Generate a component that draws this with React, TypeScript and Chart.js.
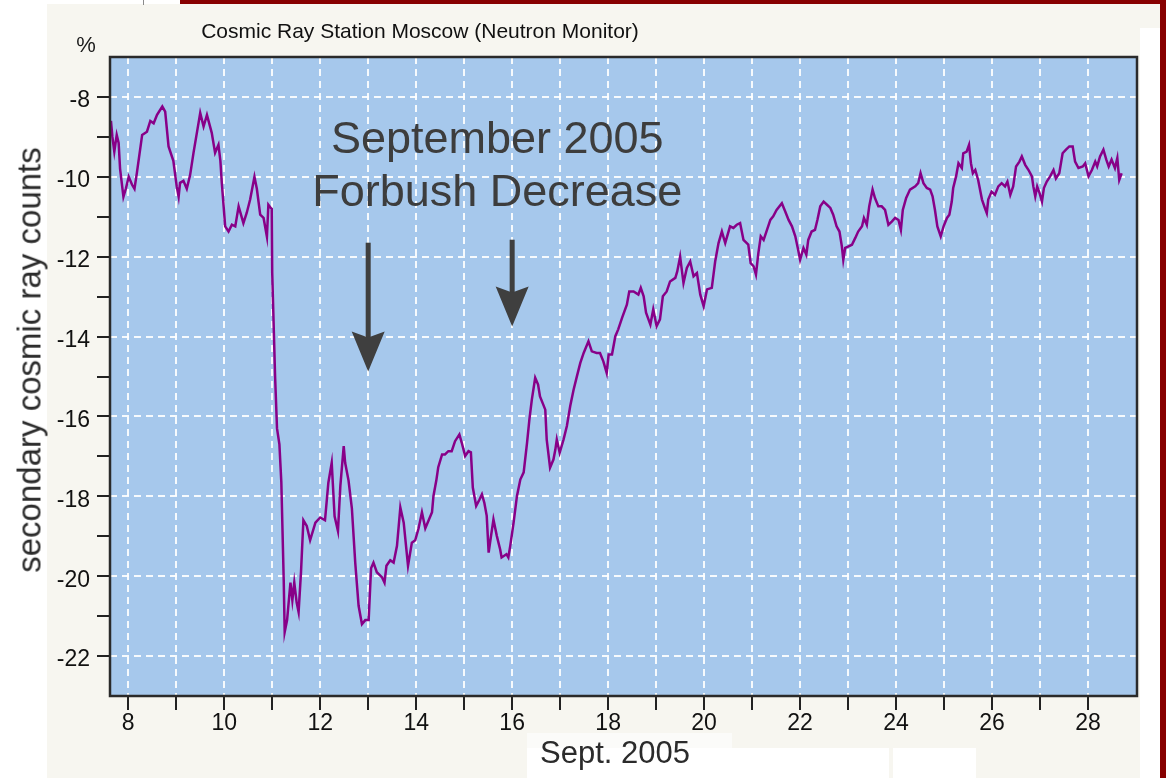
import React, { useEffect, useRef } from "react";
import { Chart, registerables } from "chart.js";

Chart.register(...registerables);

// ---- data ----
const days = [
  7.64, 7.67, 7.71, 7.76, 7.8, 7.83, 7.9, 7.95, 8.01, 8.08, 8.13, 8.18, 8.29, 8.39, 8.46, 8.53, 8.6, 8.71, 8.77, 8.84,
  8.94, 9.01, 9.05, 9.08, 9.15, 9.22, 9.29, 9.36, 9.43, 9.5, 9.57, 9.64, 9.74, 9.81, 9.88, 9.92, 9.95, 10.02, 10.09, 10.16,
  10.23, 10.3, 10.4, 10.47, 10.54, 10.63, 10.68, 10.75, 10.82, 10.89, 10.92, 10.97, 10.99, 11.0, 11.06, 11.1, 11.15, 11.19, 11.24, 11.26,
  11.31, 11.38, 11.42, 11.46, 11.51, 11.55, 11.6, 11.65, 11.72, 11.79, 11.9, 12.0, 12.1, 12.17, 12.24, 12.3, 12.37, 12.42, 12.49, 12.52,
  12.59, 12.66, 12.73, 12.8, 12.87, 12.94, 13.01, 13.06, 13.11, 13.18, 13.29, 13.34, 13.38, 13.46, 13.53, 13.6, 13.67, 13.74, 13.83, 13.91,
  13.98, 14.05, 14.12, 14.19, 14.26, 14.33, 14.36, 14.42, 14.46, 14.54, 14.6, 14.67, 14.74, 14.81, 14.9, 14.95, 15.02, 15.09, 15.14, 15.18,
  15.25, 15.32, 15.37, 15.42, 15.47, 15.51, 15.56, 15.61, 15.68, 15.75, 15.78, 15.88, 15.92, 15.96, 16.03, 16.1, 16.17, 16.24, 16.31, 16.36,
  16.41, 16.48, 16.54, 16.58, 16.69, 16.72, 16.79, 16.86, 16.9, 16.93, 16.99, 17.07, 17.14, 17.21, 17.28, 17.35, 17.42, 17.49, 17.59, 17.66,
  17.76, 17.83, 17.9, 17.97, 18.01, 18.08, 18.15, 18.21, 18.29, 18.39, 18.44, 18.53, 18.63, 18.68, 18.74, 18.79, 18.88, 18.94, 19.01, 19.08,
  19.14, 19.22, 19.29, 19.4, 19.44, 19.5, 19.57, 19.64, 19.71, 19.78, 19.85, 19.92, 19.99, 20.06, 20.16, 20.23, 20.3, 20.37, 20.44, 20.54,
  20.61, 20.68, 20.75, 20.82, 20.92, 20.97, 21.03, 21.08, 21.13, 21.18, 21.24, 21.31, 21.38, 21.44, 21.51, 21.62, 21.69, 21.76, 21.83, 21.9,
  21.96, 22.0, 22.07, 22.13, 22.17, 22.24, 22.31, 22.36, 22.42, 22.49, 22.56, 22.63, 22.69, 22.76, 22.82, 22.87, 22.9, 22.94, 23.01, 23.08,
  23.15, 23.21, 23.29, 23.33, 23.39, 23.44, 23.51, 23.56, 23.63, 23.7, 23.77, 23.84, 23.91, 23.98, 24.05, 24.1, 24.14, 24.21, 24.29, 24.4,
  24.46, 24.51, 24.57, 24.64, 24.71, 24.76, 24.81, 24.86, 24.93, 24.99, 25.06, 25.11, 25.16, 25.19, 25.25, 25.3, 25.37, 25.4, 25.47, 25.52,
  25.56, 25.6, 25.65, 25.71, 25.79, 25.85, 25.89, 25.92, 25.99, 26.06, 26.13, 26.2, 26.27, 26.32, 26.38, 26.44, 26.5, 26.57, 26.62, 26.69,
  26.76, 26.83, 26.86, 26.9, 26.94, 26.99, 27.04, 27.08, 27.14, 27.21, 27.28, 27.33, 27.4, 27.47, 27.54, 27.61, 27.68, 27.73, 27.8, 27.89,
  27.94, 28.01, 28.08, 28.15, 28.19, 28.25, 28.32, 28.38, 28.43, 28.49, 28.56, 28.61, 28.65, 28.7,
];

const counts = [
  -8.6, -9.0, -9.37, -8.95, -9.15, -9.8, -10.5, -10.3, -10.0, -10.2, -10.3, -9.9, -8.95, -8.87, -8.6, -8.66, -8.45, -8.24, -8.37, -9.24,
  -9.6, -10.24, -10.5, -10.15, -10.1, -10.3, -9.95, -9.4, -8.9, -8.4, -8.74, -8.45, -8.9, -9.4, -9.2, -9.6, -10.16, -11.24, -11.37, -11.2,
  -11.24, -10.74, -11.16, -10.9, -10.57, -10.0, -10.3, -10.95, -11.03, -11.5, -10.7, -10.78, -10.8, -12.4, -15.0, -16.3, -16.7, -17.65, -20.1, -21.4,
  -21.1, -20.16, -20.6, -20.16, -20.66, -20.9, -19.9, -18.6, -18.74, -19.1, -18.66, -18.53, -18.6, -17.66, -17.16, -18.5, -18.87, -17.74, -16.74, -17.16,
  -17.6, -18.3, -19.66, -20.74, -21.2, -21.1, -21.1, -19.8, -19.66, -19.9, -20.03, -20.16, -19.74, -19.6, -19.66, -19.24, -18.28, -18.66, -19.74, -19.16,
  -19.1, -18.8, -18.4, -18.8, -18.6, -18.4, -17.99, -17.6, -17.27, -16.95, -16.95, -16.87, -16.87, -16.62, -16.45, -16.66, -16.99, -16.87, -16.9, -17.78,
  -18.24, -18.08, -17.95, -18.16, -18.49, -19.41, -18.99, -18.58, -18.99, -19.33, -19.53, -19.45, -19.53, -19.24, -18.66, -17.99, -17.58, -17.4, -16.66, -16.07,
  -15.58, -15.03, -15.2, -15.5, -15.83, -16.58, -17.28, -17.08, -16.83, -16.58, -16.91, -16.58, -16.24, -15.74, -15.33, -14.99, -14.66, -14.41, -14.12, -14.37,
  -14.41, -14.41, -14.62, -14.91, -14.45, -14.45, -13.99, -13.82, -13.53, -13.2, -12.87, -12.87, -12.95, -12.78, -12.99, -13.4, -13.7, -13.32, -13.74, -13.57,
  -12.99, -12.87, -12.62, -12.53, -12.37, -12.0, -12.66, -12.28, -12.12, -12.49, -12.41, -12.95, -13.24, -12.82, -12.78, -12.12, -11.66, -11.37, -11.66, -11.24,
  -11.28, -11.2, -11.16, -11.58, -11.7, -12.16, -12.24, -12.45, -11.91, -11.49, -11.58, -11.33, -11.08, -10.99, -10.83, -10.66, -10.87, -11.08, -11.24, -11.49,
  -11.83, -12.08, -11.78, -11.95, -11.58, -11.37, -11.33, -11.08, -10.74, -10.62, -10.7, -10.78, -10.95, -11.24, -11.37, -11.74, -12.08, -11.78, -11.74, -11.7,
  -11.53, -11.37, -11.24, -11.03, -11.2, -10.74, -10.32, -10.53, -10.74, -10.74, -10.83, -11.2, -11.12, -11.03, -11.08, -11.33, -10.83, -10.53, -10.32, -10.24,
  -10.16, -9.91, -10.16, -10.28, -10.32, -10.49, -10.83, -11.24, -11.49, -11.24, -11.03, -10.95, -10.62, -10.28, -9.99, -9.66, -9.78, -9.41, -9.37, -9.2,
  -9.66, -9.91, -9.83, -10.08, -10.57, -10.78, -10.91, -10.57, -10.37, -10.45, -10.24, -10.16, -10.24, -10.12, -10.45, -10.24, -9.74, -9.62, -9.49, -9.7,
  -9.83, -9.99, -10.24, -10.49, -10.24, -10.41, -10.62, -10.28, -10.12, -9.99, -9.83, -10.04, -9.91, -9.41, -9.32, -9.24, -9.24, -9.62, -9.78, -9.74,
  -9.66, -9.99, -9.83, -9.62, -9.74, -9.49, -9.32, -9.57, -9.74, -9.57, -9.78, -9.53, -10.08, -9.91,
];

const xTickDays = [8, 9, 10, 11, 12, 13, 14, 15, 16, 17, 18, 19, 20, 21, 22, 23, 24, 25, 26, 27, 28];
const yTickValues = [-22, -21, -20, -19, -18, -17, -16, -15, -14, -13, -12, -11, -10, -9, -8];
const xMin = 7.62;
const xMax = 29.02;
const yMin = -23;
const yMax = -7;

const chartTitle = "Cosmic Ray Station Moscow (Neutron Monitor)";
const yUnit = "%";
const yAxisTitle = "secondary cosmic ray counts";
const xAxisTitle = "Sept. 2005";
const annotationLines = ["September 2005", "Forbush Decrease"];
const annotationDay = 15.69;
const annotationBaselines = [-9.4, -10.725];
const arrowDays = [13, 16];
const arrowTops = [-11.65, -11.575];
const arrowTips = [-14.875, -13.75];

// ---- styles ----
const FONT = "'Liberation Sans', Arial, Helvetica, sans-serif";
const PLOT_BG = "#A6C8EC";
const GRID = "rgba(255,255,255,0.9)";
const LINE = "#880088";
const CREAM = "#F7F6F0";
const DARK_RED = "#870000";

const decorPlugin = {
  id: "decor",
  beforeDraw(chart: any) {
    const { ctx, chartArea: a } = chart;
    ctx.save();
    ctx.fillStyle = PLOT_BG;
    ctx.fillRect(a.left, a.top, a.right - a.left, a.bottom - a.top);
    ctx.restore();
  },
  afterDraw(chart: any) {
    const { ctx, chartArea: a } = chart;
    const xs = chart.scales.x;
    const ys = chart.scales.y;
    ctx.save();
    // annotation text
    ctx.font = `45px ${FONT}`;
    ctx.fillStyle = "#3d3d3d";
    ctx.textAlign = "center";
    ctx.textBaseline = "alphabetic";
    annotationLines.forEach((t, i) => {
      ctx.fillText(t, xs.getPixelForValue(annotationDay), ys.getPixelForValue(annotationBaselines[i]));
    });
    // arrows
    ctx.fillStyle = "#3f3f3f";
    arrowDays.forEach((d, i) => {
      const px = xs.getPixelForValue(d);
      const top = ys.getPixelForValue(arrowTops[i]);
      const tip = ys.getPixelForValue(arrowTips[i]);
      const headLen = 40;
      const half = 16.5;
      const notch = 6;
      const back = tip - headLen;
      ctx.fillRect(px - 2.5, top, 5, back + notch + 2 - top);
      ctx.beginPath();
      ctx.moveTo(px - half, back);
      ctx.lineTo(px, back + notch);
      ctx.lineTo(px + half, back);
      ctx.lineTo(px, tip);
      ctx.closePath();
      ctx.fill();
    });
    // frame
    ctx.strokeStyle = "#2a2a2a";
    ctx.lineWidth = 2.5;
    ctx.strokeRect(a.left, a.top, a.right - a.left, a.bottom - a.top);
    ctx.restore();
  },
};

function evenGrid(ctx: any) {
  const v = ctx.tick ? ctx.tick.value : 0;
  return Math.abs(v % 2) < 1e-9 ? GRID : "rgba(0,0,0,0)";
}

export default function App() {
  const canvasRef = useRef<HTMLCanvasElement | null>(null);

  useEffect(() => {
    const canvas = canvasRef.current;
    if (!canvas) return;
    const chart = new Chart(canvas, {
      type: "line",
      data: {
        datasets: [
          {
            data: days.map((d, i) => ({ x: d, y: counts[i] })),
            borderColor: LINE,
            borderWidth: 2.5,
            pointRadius: 0,
            tension: 0,
            fill: false,
          },
        ],
      },
      options: {
        animation: false,
        responsive: false,
        devicePixelRatio: 1,
        layout: { padding: { top: 57, right: 29, left: 0, bottom: 0 } },
        plugins: {
          legend: { display: false },
          title: { display: false },
          tooltip: { enabled: false },
        },
        scales: {
          x: {
            type: "linear",
            min: xMin,
            max: xMax,
            afterBuildTicks: (s: any) => {
              s.ticks = xTickDays.map((v) => ({ value: v }));
            },
            afterFit: (s: any) => {
              s.height = 82;
            },
            grid: {
              color: GRID,
              lineWidth: 2,
              tickLength: 14,
              tickWidth: 2,
              tickColor: "#222",
            },
            border: { display: false, dash: [7, 5] },
            ticks: {
              autoSkip: false,
              maxRotation: 0,
              padding: 0,
              color: "#111",
              font: { family: FONT, size: 23 },
              callback: (v: any) => (Number(v) % 2 === 0 ? String(v) : ""),
            },
          },
          y: {
            type: "linear",
            min: yMin,
            max: yMax,
            afterBuildTicks: (s: any) => {
              s.ticks = yTickValues.map((v) => ({ value: v }));
            },
            afterFit: (s: any) => {
              s.width = 110;
            },
            grid: {
              color: evenGrid,
              lineWidth: 2,
              tickLength: 13,
              tickWidth: 2,
              tickColor: "#222",
            },
            border: { display: false, dash: [7, 5] },
            ticks: {
              autoSkip: false,
              padding: 7,
              labelOffset: 4,
              color: "#111",
              font: { family: FONT, size: 23 },
              callback: (v: any) => (Number(v) % 2 === 0 ? String(v) : ""),
            },
          },
        },
      },
      plugins: [decorPlugin],
    } as any);
    return () => chart.destroy();
  }, []);

  const abs = (style: React.CSSProperties): React.CSSProperties => ({ position: "absolute", ...style });

  return (
    <div
      style={{
        position: "fixed",
        left: 0,
        top: 0,
        width: 1166,
        height: 778,
        overflow: "hidden",
        background: "#ffffff",
        fontFamily: FONT,
      }}
    >
      <div style={abs({ left: 47, top: 4, width: 1113, height: 774, background: CREAM })} />
      <div style={abs({ left: 1140, top: 28, width: 20, height: 750, background: "#ffffff" })} />
      <div style={abs({ left: 180, top: 0, width: 986, height: 4, background: DARK_RED })} />
      <div style={abs({ left: 1160, top: 0, width: 6, height: 778, background: DARK_RED })} />
      <div style={abs({ left: 143, top: 0, width: 1, height: 5, background: "#8a8a8a" })} />
      <div style={abs({ left: 527, top: 733, width: 205, height: 15, background: "#FBFBF9" })} />
      <div style={abs({ left: 527, top: 748, width: 362, height: 30, background: "#ffffff" })} />
      <div style={abs({ left: 893, top: 748, width: 83, height: 30, background: "#ffffff" })} />
      <canvas
        ref={canvasRef}
        width={1166}
        height={778}
        style={{ position: "absolute", left: 0, top: 0, width: 1166, height: 778 }}
      />
      <div
        style={abs({
          left: 420,
          top: 30,
          transform: "translate(-50%, -50%)",
          fontSize: 21,
          lineHeight: 1,
          color: "#111",
          whiteSpace: "nowrap",
        })}
      >
        {chartTitle}
      </div>
      <div
        style={abs({
          left: 86,
          top: 45,
          transform: "translate(-50%, -50%)",
          fontSize: 22,
          lineHeight: 1,
          color: "#1a1a1a",
        })}
      >
        {yUnit}
      </div>
      <div
        style={abs({
          left: 29,
          top: 360,
          transform: "translate(-50%, -50%) rotate(-90deg)",
          fontSize: 33,
          lineHeight: 1,
          color: "#2b2b2b",
          whiteSpace: "nowrap",
        })}
      >
        {yAxisTitle}
      </div>
      <div
        style={abs({
          left: 615,
          top: 752,
          transform: "translate(-50%, -50%)",
          fontSize: 31,
          lineHeight: 1,
          color: "#2b2b2b",
          whiteSpace: "nowrap",
        })}
      >
        {xAxisTitle}
      </div>
    </div>
  );
}
